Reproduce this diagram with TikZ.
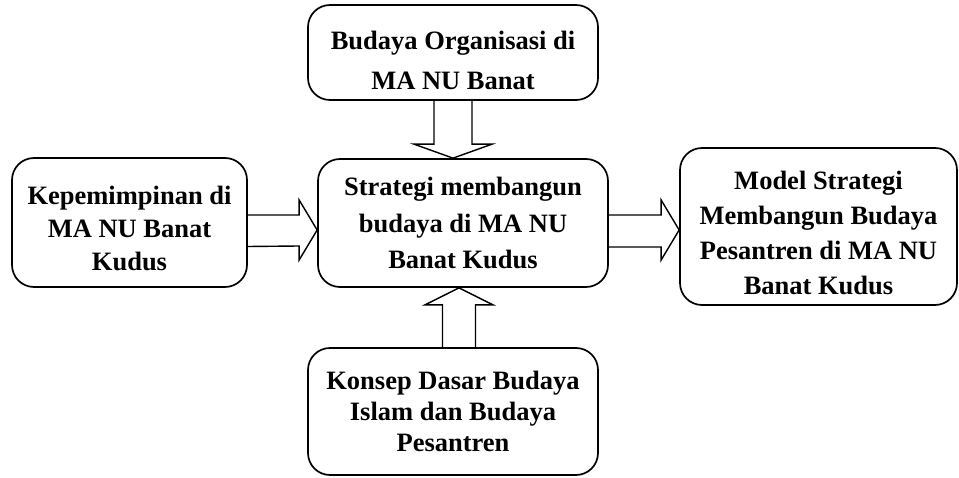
\documentclass[tikz,border=0pt]{standalone}
\usepackage{fontspec}
\setmainfont{Liberation Serif}
\usetikzlibrary{calc}
\begin{document}
\begin{tikzpicture}[x=1pt,y=-1pt,
  box/.style={draw, line width=1.7pt, rounded corners=22pt, align=center, inner sep=0pt},
  barrow/.style={draw, line width=1.4pt, line join=miter}]
\useasboundingbox (0,0) rectangle (959,478);
\node[box, minimum width=290pt, minimum height=95pt, font=\bfseries\fontsize{26.5}{40}\selectfont] (top) at (453,52.5) {\rule{0pt}{34pt}Budaya Organisasi di\\MA NU Banat};
\node[box, minimum width=290pt, minimum height=128pt, font=\bfseries\fontsize{26.5}{36.5}\selectfont] (mid) at (463,223) {Strategi membangun\\budaya di MA NU\\Banat Kudus};
\node[box, minimum width=235pt, minimum height=129pt, font=\bfseries\fontsize{26.5}{33}\selectfont] (left) at (129.5,222.5) {\rule{0pt}{30pt}Kepemimpinan di\\MA NU Banat\\Kudus};
\node[box, minimum width=277pt, minimum height=157pt, font=\bfseries\fontsize{26.5}{35}\selectfont] (right) at (818.5,226.5) {\rule{0pt}{32pt}Model Strategi\\Membangun Budaya\\Pesantren di MA NU\\Banat Kudus};
\node[box, minimum width=290pt, minimum height=127pt, font=\bfseries\fontsize{26.5}{31}\selectfont] (bot) at (453,411.5) {Konsep Dasar Budaya\\Islam dan Budaya\\Pesantren};
% top arrow
\coordinate (tt) at (top.south |- mid.north);
\draw[barrow] ($(top.south)+(-19,0)$) -- ($(tt)+(-19,-14)$) -- ++(-20,0) -- (tt) -- ($(tt)+(39,-14)$) -- ++(-20,0) -- ($(top.south)+(19,0)$);
% bottom arrow
\coordinate (bt) at ($(bot.north |- mid.south)+(6,0)$);
\draw[barrow] ($(bot.north)+(-10.5,0)$) -- ($(bt)+(-16.5,17)$) -- ++(-17.5,0) -- (bt) -- ($(bt)+(34,17)$) -- ++(-17.5,0) -- ($(bot.north)+(22.5,0)$);
% left arrow
\coordinate (lt) at ($(mid.west |- left.east)+(0,7.5)$);
\draw[barrow] ($(left.east)+(0,-7.5)$) -- ($(lt)+(-18,-15)$) -- ++(0,-15) -- (lt) -- ($(lt)+(-18,30)$) -- ++(0,-14) -- ($(left.east)+(0,24)$);
% right arrow
\coordinate (rt) at ($(right.west)+(0,3.5)$);
\draw[barrow] ($(mid.east)+(0,-8)$) -- ($(rt)+(-18,-15)$) -- ++(0,-15) -- (rt) -- ($(rt)+(-18,30)$) -- ++(0,-13) -- ($(mid.east)+(0,24)$);
\end{tikzpicture}
\end{document}
